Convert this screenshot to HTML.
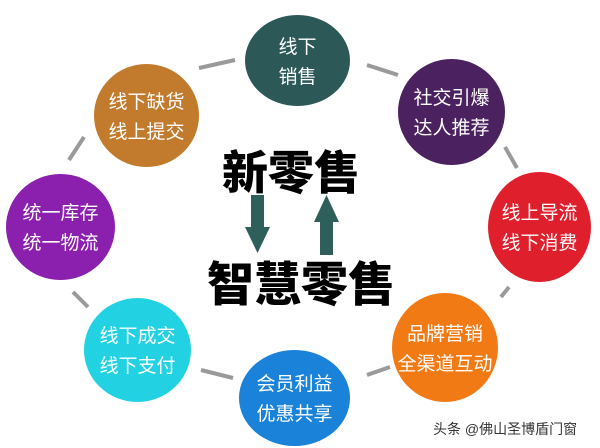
<!DOCTYPE html>
<html><head><meta charset="utf-8"><style>
body{margin:0;width:600px;height:448px;background:#fff;overflow:hidden;position:relative;font-family:"Liberation Sans","Noto Sans CJK SC",sans-serif}
.c{position:absolute;border-radius:50%;color:#fff;display:flex;align-items:center;justify-content:center;text-align:center;font-size:19px;line-height:30px;font-family:"Noto Sans CJK SC",sans-serif}
.big{position:absolute;font-family:"Noto Sans CJK SC",sans-serif;font-weight:900;color:#000;white-space:nowrap}
</style></head><body>
<svg width="600" height="448" style="position:absolute;left:0;top:0">
<g stroke="#9a9a9a" stroke-width="4" stroke-linecap="butt">
<line x1="199" y1="68" x2="235" y2="60"/>
<line x1="367" y1="65" x2="398" y2="75"/>
<line x1="505" y1="147" x2="517" y2="168"/>
<line x1="509" y1="287" x2="501" y2="297"/>
<line x1="390" y1="367" x2="367" y2="375"/>
<line x1="233" y1="378" x2="201" y2="370"/>
<line x1="73" y1="292" x2="88" y2="307"/>
<line x1="69" y1="160" x2="84" y2="137"/>
</g>
<g fill="#2f5f5a">
<polygon points="251,195 264,195 264,227 270,227 257.5,253 245,227 251,227"/>
<polygon points="320,255 333,255 333,222 339,222 326.5,195 314,222 320,222"/>
</g>
</svg>
<div class="c" style="left:245px;top:15px;width:105px;height:91px;background:#2c5858">线下<br>销售</div>
<div class="c" style="left:94px;top:64px;width:105px;height:103px;background:#c27a2c">线下缺货<br>线上提交</div>
<div class="c" style="left:398px;top:59px;width:107px;height:106px;background:#4b225f">社交引爆<br>达人推荐</div>
<div class="c" style="left:6px;top:174px;width:109px;height:106px;background:#8b1fae">统一库存<br>统一物流</div>
<div class="c" style="left:488px;top:172px;width:103px;height:110px;background:#e01f2c">线上导流<br>线下消费</div>
<div class="c" style="left:392px;top:293px;width:106px;height:109px;background:#f27a14">品牌营销<br>全渠道互动</div>
<div class="c" style="left:239px;top:350px;width:111px;height:96px;background:#1a82d8">会员利益<br>优惠共享</div>
<div class="c" style="left:84px;top:298px;width:107px;height:104px;background:#22d2e2">线下成交<br>线下支付</div>
<div class="big" style="left:222px;top:143px;font-size:46px;line-height:54px">新零售</div>
<div class="big" style="left:207px;top:253px;font-size:47px;line-height:56px">智慧零售</div>
<div style="position:absolute;left:433px;top:419px;font-size:14px;color:#333;font-family:'Liberation Sans','Noto Sans CJK SC',sans-serif">头条 @佛山圣博盾门窗</div>
</body></html>
